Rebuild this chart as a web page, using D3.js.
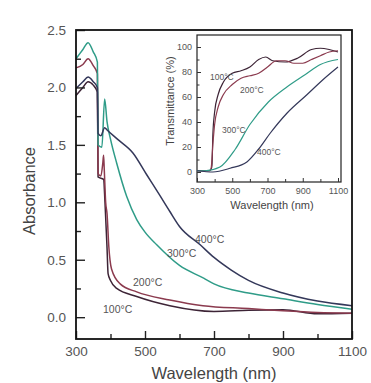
<!DOCTYPE html>
<html>
<head>
<meta charset="utf-8">
<script src="https://cdn.jsdelivr.net/npm/d3@7"></script>
<style>
  body { margin: 0; background: #fff; }
  svg { display: block; font-family: "Liberation Sans", Arial, sans-serif; }
</style>
</head>
<body>
<div id="chart"></div>
<script>
//Dimensions of the picture
const width = 371;
const height = 383;

//Absorbance curves (main plot)
const absWl100 = [300, 320, 335, 350, 362, 364, 380, 384, 390, 393, 400, 418, 476, 572, 700, 800, 900, 1000, 1100];
const abs100 = [1.93, 2.0, 2.05, 2.02, 1.96, 1.22, 1.2, 1.0, 0.6, 0.38, 0.32, 0.25, 0.18, 0.10, 0.05, 0.06, 0.065, 0.03, 0.035];

const absWl200 = [300, 320, 335, 350, 362, 364, 372, 378, 380, 382, 386, 390, 395, 403, 428, 476, 572, 668, 800, 900, 1000, 1100];
const abs200 = [2.17, 2.2, 2.25, 2.19, 2.12, 1.25, 1.23, 1.35, 1.41, 1.28, 1.0, 0.9, 0.62, 0.42, 0.29, 0.22, 0.15, 0.10, 0.075, 0.055, 0.04, 0.035];

const absWl300 = [300, 320, 335, 350, 362, 364, 375, 383, 390, 400, 418, 447, 476, 500, 534, 600, 670, 700, 800, 900, 1000, 1100];
const abs300 = [2.25, 2.33, 2.39, 2.31, 2.22, 1.5, 1.48, 1.9, 1.7, 1.55, 1.34, 1.05, 0.85, 0.74, 0.63, 0.45, 0.34, 0.29, 0.21, 0.16, 0.11, 0.07];

const absWl400 = [300, 320, 335, 350, 362, 364, 372, 383, 390, 420, 465, 505, 543, 572, 600, 660, 700, 750, 800, 900, 1000, 1100];
const abs400 = [1.99, 2.05, 2.09, 2.05, 2.0, 1.6, 1.58, 1.65, 1.63, 1.55, 1.43, 1.24, 1.06, 0.92, 0.79, 0.63, 0.52, 0.41, 0.32, 0.21, 0.14, 0.10];

//Transmittance curves (inset)
const trWl100 = [300, 370, 380, 385, 390, 400, 420, 450, 500, 550, 600, 650, 690, 730, 800, 870, 950, 1000, 1050, 1100];
const tr100 = [1, 1, 2, 5, 30, 48, 62, 72, 79, 81, 84, 90, 92, 89, 88, 91, 98, 99, 98, 96];

const trWl200 = [300, 370, 380, 390, 400, 420, 450, 500, 550, 600, 650, 700, 750, 800, 850, 900, 950, 1000, 1050, 1100];
const tr200 = [1, 1, 3, 22, 38, 52, 62, 70, 75, 77, 79, 84, 89, 89, 87, 87, 90, 93, 96, 97];

const trWl300 = [300, 345, 430, 516, 600, 705, 810, 915, 1000, 1100];
const tr300 = [1, 1, 4, 18, 38, 56, 68, 78, 86, 90];

const trWl400 = [300, 390, 488, 583, 648, 715, 810, 925, 1016, 1100];
const tr400 = [1, 0, 3, 8, 18, 31, 47, 62, 74, 84];

//Series names, colours and label positions
const seriesNames = ["100°C", "200°C", "300°C", "400°C"];
const seriesColors = ["#3d2436", "#8b3a4e", "#2f9c88", "#34385a"];

const absSeries = [[absWl100, abs100], [absWl200, abs200], [absWl300, abs300], [absWl400, abs400]];
const trSeries = [[trWl100, tr100], [trWl200, tr200], [trWl300, tr300], [trWl400, tr400]];

//Ticks
const xMajor = [300, 500, 700, 900, 1100];
const xMinor = [400, 600, 800, 1000];
const yMajor = [0, 0.5, 1.0, 1.5, 2.0, 2.5];
const yMinor = [0.25, 0.75, 1.25, 1.75, 2.25];
const tyMajor = [0, 20, 40, 60, 80, 100];
const tyMinor = [10, 30, 50, 70, 90];

const svg = d3.create("svg")
    .attr("width", width)
    .attr("height", height)
    .attr("viewBox", [0, 0, width, height]);

//Main scales
const x = d3.scaleLinear([300, 1100], [76, 352]);
const y = d3.scaleLinear([-0.19, 2.5], [339, 30]);

//Inset scales
const xi = d3.scaleLinear([300, 1117], [197, 341]);
const yi = d3.scaleLinear([-8, 109.6], [182, 35]);

const line = (sx, sy) => d3.line()
    .x(d => sx(d[0]))
    .y(d => sy(d[1]))
    .curve(d3.curveMonotoneX);

const toPoints = s => s[0].map((w, i) => [w, s[1][i]]);

//Main curves
svg.append("g")
    .selectAll("path")
    .data(absSeries)
    .join("path")
    .attr("d", d => line(x, y)(toPoints(d)))
    .attr("fill", "none")
    .attr("stroke", (d, i) => seriesColors[i])
    .attr("stroke-width", 1.5);

//Main axes with inward ticks
const styleAxis = g => {
    g.select(".domain").remove();
    g.selectAll("line").attr("stroke", "#222").attr("stroke-width", 1.4);
    g.selectAll("text").attr("fill", "#555").style("font-size", "13.5px");
};

svg.append("g")
    .attr("transform", `translate(0,${y.range()[0]})`)
    .call(d3.axisBottom(x).tickValues(xMajor).tickSize(-8).tickPadding(7).tickFormat(d3.format("d")))
    .call(styleAxis);
svg.append("g")
    .attr("transform", `translate(0,${y.range()[0]})`)
    .call(d3.axisBottom(x).tickValues(xMinor).tickSize(-5).tickFormat(""))
    .call(styleAxis);
svg.append("g")
    .attr("transform", `translate(${x.range()[0]},0)`)
    .call(d3.axisLeft(y).tickValues(yMajor).tickSize(-9).tickPadding(10).tickFormat(d3.format(".1f")))
    .call(styleAxis);
svg.append("g")
    .attr("transform", `translate(${x.range()[0]},0)`)
    .call(d3.axisLeft(y).tickValues(yMinor).tickSize(-5).tickFormat(""))
    .call(styleAxis);

//Main frame
svg.append("rect")
    .attr("x", x.range()[0])
    .attr("y", y.range()[1])
    .attr("width", x.range()[1] - x.range()[0])
    .attr("height", y.range()[0] - y.range()[1])
    .attr("fill", "none")
    .attr("stroke", "#111")
    .attr("stroke-width", 1.8);

//Axis titles
svg.append("text")
    .attr("x", 214)
    .attr("y", 379)
    .attr("text-anchor", "middle")
    .attr("fill", "#444")
    .style("font-size", "16.5px")
    .text("Wavelength (nm)");
svg.append("text")
    .attr("transform", "translate(35,191) rotate(-90)")
    .attr("text-anchor", "middle")
    .attr("fill", "#444")
    .style("font-size", "16.5px")
    .text("Absorbance");

//Curve labels in main plot
const absLabelPos = [[103, 313], [133, 286], [167, 257], [195, 243]];
svg.append("g")
    .selectAll("text")
    .data(seriesNames)
    .join("text")
    .attr("x", (d, i) => absLabelPos[i][0])
    .attr("y", (d, i) => absLabelPos[i][1])
    .attr("fill", "#555")
    .style("font-size", "10.5px")
    .text(d => d);

//Inset
const inset = svg.append("g");
inset.append("rect")
    .attr("x", xi.range()[0])
    .attr("y", yi.range()[1])
    .attr("width", xi.range()[1] - xi.range()[0])
    .attr("height", yi.range()[0] - yi.range()[1])
    .attr("fill", "#fff")
    .attr("stroke", "#222")
    .attr("stroke-width", 1.2);

inset.append("g")
    .selectAll("path")
    .data(trSeries)
    .join("path")
    .attr("d", d => line(xi, yi)(toPoints(d)))
    .attr("fill", "none")
    .attr("stroke", (d, i) => seriesColors[i])
    .attr("stroke-width", 1.2);

const styleInsetAxis = g => {
    g.select(".domain").remove();
    g.selectAll("line").attr("stroke", "#333").attr("stroke-width", 1);
    g.selectAll("text").attr("fill", "#555").style("font-size", "9px");
};

inset.append("g")
    .attr("transform", `translate(0,${yi.range()[0]})`)
    .call(d3.axisBottom(xi).tickValues(xMajor).tickSize(-4).tickPadding(6).tickFormat(d3.format("d")))
    .call(styleInsetAxis);
inset.append("g")
    .attr("transform", `translate(0,${yi.range()[0]})`)
    .call(d3.axisBottom(xi).tickValues(xMinor).tickSize(-3).tickFormat(""))
    .call(styleInsetAxis);
inset.append("g")
    .attr("transform", `translate(${xi.range()[0]},0)`)
    .call(d3.axisLeft(yi).tickValues(tyMajor).tickSize(-4).tickPadding(5))
    .call(styleInsetAxis);
inset.append("g")
    .attr("transform", `translate(${xi.range()[0]},0)`)
    .call(d3.axisLeft(yi).tickValues(tyMinor).tickSize(-2.5).tickFormat(""))
    .call(styleInsetAxis);

inset.append("text")
    .attr("x", 272)
    .attr("y", 209)
    .attr("text-anchor", "middle")
    .attr("fill", "#444")
    .style("font-size", "11px")
    .text("Wavelength (nm)");
inset.append("text")
    .attr("transform", "translate(174,101) rotate(-90)")
    .attr("text-anchor", "middle")
    .attr("fill", "#444")
    .style("font-size", "11px")
    .text("Transmittance (%)");

const trLabelPos = [[210, 80], [240, 93], [222, 133], [257, 155]];
inset.append("g")
    .selectAll("text")
    .data(seriesNames)
    .join("text")
    .attr("x", (d, i) => trLabelPos[i][0])
    .attr("y", (d, i) => trLabelPos[i][1])
    .attr("fill", "#555")
    .style("font-size", "8.5px")
    .text(d => d);

d3.select("#chart").node().append(svg.node());
</script>
</body>
</html>
